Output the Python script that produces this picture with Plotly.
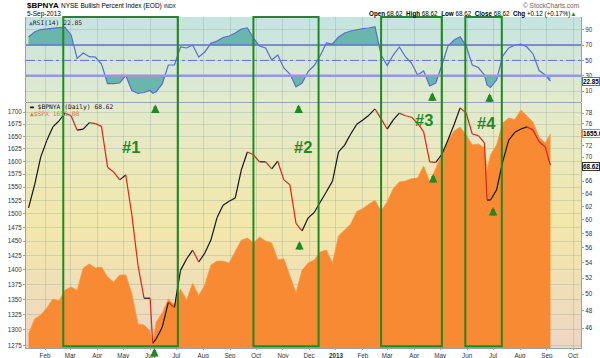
import plotly.graph_objects as go
import pandas as pd

# ---------------- data ----------------
dates = [
    "2012-01-13", "2012-01-20", "2012-01-27", "2012-02-03", "2012-02-10", "2012-02-17", "2012-02-24",
    "2012-03-02", "2012-03-09", "2012-03-16", "2012-03-23", "2012-03-30",
    "2012-04-06", "2012-04-13", "2012-04-20", "2012-04-27",
    "2012-05-04", "2012-05-11", "2012-05-18", "2012-05-25",
    "2012-06-01", "2012-06-04", "2012-06-08", "2012-06-15", "2012-06-22", "2012-06-29",
    "2012-07-06", "2012-07-13", "2012-07-20", "2012-07-27",
    "2012-08-03", "2012-08-10", "2012-08-17", "2012-08-24", "2012-08-31",
    "2012-09-07", "2012-09-14", "2012-09-21", "2012-09-28",
    "2012-10-05", "2012-10-12", "2012-10-19", "2012-10-26",
    "2012-11-02", "2012-11-09", "2012-11-16", "2012-11-23", "2012-11-30",
    "2012-12-07", "2012-12-14", "2012-12-21", "2012-12-28",
    "2013-01-04", "2013-01-11", "2013-01-18", "2013-01-25",
    "2013-02-01", "2013-02-08", "2013-02-15", "2013-02-22",
    "2013-03-01", "2013-03-08", "2013-03-15", "2013-03-22", "2013-03-29",
    "2013-04-05", "2013-04-12", "2013-04-19", "2013-04-26",
    "2013-05-03", "2013-05-10", "2013-05-17", "2013-05-24", "2013-05-31",
    "2013-06-07", "2013-06-14", "2013-06-21", "2013-06-24", "2013-06-28",
    "2013-07-05", "2013-07-12", "2013-07-19", "2013-07-26",
    "2013-08-02", "2013-08-09", "2013-08-16", "2013-08-23", "2013-08-30",
    "2013-09-05",
]

spx_close = [
    1293.5, 1317.6, 1324, 1335.6, 1350.5, 1347, 1365.5,
    1370.6, 1365, 1403, 1410, 1403,
    1404.7, 1387.6, 1379, 1391,
    1391, 1359, 1309.5, 1308,
    1298, 1276, 1312.8, 1327.4, 1350.5, 1340.5,
    1367, 1348.8, 1377, 1356,
    1374, 1408, 1415, 1415, 1411.6,
    1431, 1452, 1455.8, 1447,
    1457.7, 1450.4, 1447, 1417,
    1419, 1389, 1360.5, 1399.6, 1411.6,
    1417, 1431, 1434.5, 1411.6,
    1459.4, 1470, 1481, 1504,
    1509.7, 1518, 1525, 1505,
    1522, 1547, 1560, 1561.7, 1566,
    1567.5, 1590.8, 1560, 1587,
    1612.5, 1640.6, 1661, 1669, 1653,
    1632.6, 1634.6, 1626.6, 1583, 1612.5,
    1632.6, 1677, 1687.6, 1684.6,
    1704.5, 1692, 1679, 1647.6, 1636.6,
    1655.08,
]

bpnya_close = [
    61.8, 65.4, 70.0, 72.9, 75.4, 76.5, 78.0,
    77.5, 74.8, 75.0, 76.2, 76.0,
    75.5, 68.3, 67.5, 66.2,
    67.0, 60.7, 53.7, 49.5,
    49.5, 44.3, 44.8, 46.1, 49.0, 48.4,
    53.0, 54.5, 55.7, 54.1,
    55.3, 57.1, 60.3, 62.2, 62.8,
    63.3, 67.8, 70.9, 70.4,
    69.2, 69.2, 68.0, 69.3,
    66.2, 65.4, 59.5, 58.4, 60.3,
    61.1, 62.7, 64.3, 66.0,
    70.9, 72.1, 74.1, 75.9,
    76.7, 77.6, 78.8, 76.9,
    75.0, 76.7, 78.0, 77.5, 77.2,
    76.1, 74.5, 69.2, 69.1,
    70.5, 73.0, 75.8, 79.0, 78.0,
    74.1, 73.8, 72.5, 63.0, 63.0,
    64.6, 69.2, 73.0, 74.4,
    75.0, 75.4, 74.8, 72.7, 71.8,
    68.62,
]

rsi14 = [
    80.5, 87.1, 90.3, 91.4, 92.0, 92.7, 93.0,
    83.2, 52.7, 59.7, 54.8, 54.4,
    45.3, 19.8, 19.8, 20.5,
    30.3, 10.7, 6.8, 8.1,
    10.7, 7.0, 9.1, 19.2, 44.0, 44.0,
    67.5, 66.2, 70.1, 54.4,
    61.0, 72.3, 75.3, 79.9, 81.9,
    85.8, 91.0, 92.3, 79.2,
    68.8, 66.2, 50.5, 57.0,
    40.1, 32.2, 15.3, 20.5, 35.5,
    43.3, 56.4, 72.7, 71.4,
    80.5, 85.8, 88.4, 90.3,
    91.4, 92.3, 94.0, 57.0,
    43.3, 57.0, 67.5, 54.8, 46.6,
    30.9, 36.2, 16.6, 20.5,
    44.0, 68.8, 76.6, 80.9, 68.8,
    44.0, 40.7, 30.9, 17.9, 14.6,
    24.4, 55.7, 66.2, 70.1,
    71.4, 67.5, 58.4, 36.8, 30.9,
    22.85,
]

month_ticks = ["2012-02-01", "2012-03-01", "2012-04-01", "2012-05-01", "2012-06-01", "2012-07-01",
               "2012-08-01", "2012-09-01", "2012-10-01", "2012-11-01", "2012-12-01", "2013-01-01",
               "2013-02-01", "2013-03-01", "2013-04-01", "2013-05-01", "2013-06-01", "2013-07-01",
               "2013-08-01", "2013-09-01", "2013-10-01"]
month_labels = ["Feb", "Mar", "Apr", "May", "Jun", "Jul", "Aug", "Sep", "Oct", "Nov", "Dec", "<b>2013</b>",
                "Feb", "Mar", "Apr", "May", "Jun", "Jul", "Aug", "Sep", "Oct"]
spx_ticks = [1275, 1300, 1325, 1350, 1375, 1400, 1425, 1450, 1475, 1500, 1525, 1550, 1575, 1600,
             1625, 1650, 1675, 1700]
bpnya_ticks = [46, 48, 50, 52, 54, 56, 58, 60, 62, 64, 66, 68, 70, 72, 74, 76, 78]
rsi_ticks = [10, 30, 50, 70, 90]
rsi_levels = [30, 50, 70]

signal_windows = [("2012-02-22", "2012-07-03"), ("2012-09-28", "2012-12-12"),
                  ("2013-02-22", "2013-05-03"), ("2013-05-30", "2013-07-11")]
signal_names = ["#1", "#2", "#3", "#4"]

# ---------------- helpers ----------------
FONT = "Liberation Sans, Arial, sans-serif"
MONO = "DejaVu Sans Mono, monospace"
GREEN = "#1f8a1f"


def clipped(xs, ys, level, above):
    ts = [pd.Timestamp(x).value for x in xs]
    ox, oy = [], []
    for i in range(len(ys)):
        if i > 0:
            y0, y1 = ys[i - 1], ys[i]
            if (y0 - level) * (y1 - level) < 0:
                f = (level - y0) / (y1 - y0)
                ox.append(pd.Timestamp(int(ts[i - 1] + f * (ts[i] - ts[i - 1]))))
                oy.append(level)
        ox.append(pd.Timestamp(ts[i]))
        oy.append(max(ys[i], level) if above else min(ys[i], level))
    return ox, oy


def lerp(c0, c1, f):
    return tuple(round(a + (b - a) * f) for a, b in zip(c0, c1))


def gradient(p0, p1, stops, n):
    out = []
    for i in range(n):
        f = (i + 0.5) / n
        c = stops[-1][1]
        for j in range(len(stops) - 1):
            if stops[j][0] <= f <= stops[j + 1][0]:
                g = (f - stops[j][0]) / (stops[j + 1][0] - stops[j][0])
                c = lerp(stops[j][1], stops[j + 1][1], g)
                break
        y1 = p1 - (p1 - p0) * i / n
        y0 = p1 - (p1 - p0) * (i + 1) / n
        out.append(dict(type="rect", xref="paper", yref="paper", x0=0, x1=1, y0=y0, y1=min(y1 + 0.002, p1),
                        fillcolor="rgb(%d,%d,%d)" % c, line=dict(width=0), layer="below"))
    return out


# ---------------- figure ----------------
fig = go.Figure()

# RSI panel fills
for level, above in ((70, True), (30, False)):
    cx, cy = clipped(dates, rsi14, level, above)
    fig.add_trace(go.Scatter(x=cx, y=[level] * len(cx), xaxis="x2", yaxis="y", mode="lines",
                             line=dict(width=0), hoverinfo="skip", showlegend=False))
    fig.add_trace(go.Scatter(x=cx, y=cy, xaxis="x2", yaxis="y", mode="lines", fill="tonexty",
                             fillcolor="rgb(104,182,172)", line=dict(width=0), hoverinfo="skip",
                             showlegend=False))
fig.add_trace(go.Scatter(x=dates, y=rsi14, xaxis="x2", yaxis="y", mode="lines",
                         line=dict(color="rgb(92,108,215)", width=1.2), showlegend=False))

# SPX area (left log axis)
fig.add_trace(go.Scatter(x=dates, y=[1000] * len(dates), xaxis="x", yaxis="y2", mode="lines",
                         line=dict(width=0), hoverinfo="skip", showlegend=False))
fig.add_trace(go.Scatter(x=dates, y=spx_close, xaxis="x", yaxis="y2", mode="lines", fill="tonexty",
                         fillcolor="rgb(249,138,52)", line=dict(color="rgb(250,150,70)", width=0.8),
                         showlegend=False))

# BPNYA line coloured by direction (right log axis)
up_x, up_y, dn_x, dn_y = [], [], [], []
for i in range(1, len(bpnya_close)):
    tx, ty = (up_x, up_y) if bpnya_close[i] >= bpnya_close[i - 1] else (dn_x, dn_y)
    tx += [dates[i - 1], dates[i], None]
    ty += [bpnya_close[i - 1], bpnya_close[i], None]
fig.add_trace(go.Scatter(x=up_x, y=up_y, xaxis="x", yaxis="y3", mode="lines",
                         line=dict(color="#151515", width=1.2), showlegend=False))
fig.add_trace(go.Scatter(x=dn_x, y=dn_y, xaxis="x", yaxis="y3", mode="lines",
                         line=dict(color="#e2231a", width=1.2), showlegend=False))

# ---------------- shapes ----------------
RSI_DOM = [0.7432, 1.0]
MAIN_DOM = [0.0, 0.7402]
shapes = []
shapes += gradient(RSI_DOM[0], RSI_DOM[1], [(0, (196, 228, 224)), (1, (226, 235, 206))], 16)
shapes += gradient(MAIN_DOM[0], MAIN_DOM[1],
                   [(0, (226, 234, 204)), (0.5, (243, 232, 170)), (1, (237, 214, 196))], 36)
shapes.append(dict(type="line", xref="paper", yref="paper", x0=0, x1=1, y0=0.7417, y1=0.7417,
                   line=dict(color="rgb(150,165,170)", width=1)))
styles = {70: dict(color="rgb(100,112,215)", width=1.5),
          50: dict(color="rgb(100,112,215)", width=1, dash="dashdot"),
          30: dict(color="rgb(150,152,215)", width=2.5)}
for lv in rsi_levels:
    shapes.append(dict(type="line", xref="paper", yref="y", x0=0, x1=1, y0=lv, y1=lv, line=styles[lv],
                       layer="above"))
for (a, b) in signal_windows:
    shapes.append(dict(type="rect", xref="x", yref="paper", x0=a, x1=b, y0=0.005, y1=1.0,
                       line=dict(color=GREEN, width=2), fillcolor="rgba(0,0,0,0)", layer="above"))

# ---------------- annotations ----------------
ann = []
ann.append(dict(xref="paper", yref="paper", x=-0.002, y=1.034, xanchor="left", yanchor="middle",
                showarrow=False, font=dict(family=FONT, size=8, color="black"),
                text="<b>$BPNYA</b> <span style='font-size:6.5px'>NYSE Bullish Percent Index (EOD)</span> "
                     "<span style='font-size:5px'>INDX</span>"))
ann.append(dict(xref="paper", yref="paper", x=-0.002, y=1.009, xanchor="left", yanchor="middle",
                showarrow=False, font=dict(family=FONT, size=6.5, color="black"), text="5-Sep-2013"))
ann.append(dict(xref="paper", yref="paper", x=1.0, y=1.035, xanchor="right", yanchor="middle",
                showarrow=False, font=dict(family=FONT, size=6.5, color="#666"), text="© StockCharts.com"))
ann.append(dict(xref="paper", yref="paper", x=0.996, y=1.009, xanchor="right", yanchor="middle",
                showarrow=False, font=dict(family=FONT, size=6.3, color="black"),
                text="<b>Open</b> 68.62  <b>High</b> 68.62  <b>Low</b> 68.62  <b>Close</b> 68.62  "
                     "<b>Chg</b> +0.12 (+0.17%)<span style='color:#1f8a1f'>▲</span>"))
# panel legends
ann.append(dict(xref="paper", yref="paper", x=0.002, y=0.984, xanchor="left", yanchor="middle",
                showarrow=False, font=dict(family=MONO, size=6.3, color="#222"),
                text="<span style='color:#5c6cd7'>▲</span>RSI(14) 22.85"))
ann.append(dict(xref="paper", yref="paper", x=0.003, y=0.727, xanchor="left", yanchor="middle",
                showarrow=False, font=dict(family=MONO, size=6.3, color="#111"),
                text="<b>▬</b> $BPNYA (Daily) 68.62"))
ann.append(dict(xref="paper", yref="paper", x=0.003, y=0.708, xanchor="left", yanchor="middle",
                showarrow=False, font=dict(family=MONO, size=6.3, color="rgb(240,120,40)"),
                text="▲$SPX 1655.08"))
# value tags on right axis
for yv, txt, col in ((0.8066, "22.85", "rgb(92,108,215)"), (0.6495, "1655.08", "rgb(240,130,50)"),
                     (0.5498, "68.62", "#333")):
    ann.append(dict(xref="paper", yref="paper", x=1.0, y=yv, xanchor="left", yanchor="middle", xshift=1,
                    showarrow=False, font=dict(family=FONT, size=6.3, color="black"), text="<b>" + txt + "</b>",
                    bgcolor="white", bordercolor=col, borderwidth=1, borderpad=0))
# signal labels
for name, (xd, yp) in zip(signal_names, [("2012-05-10", 0.606), ("2012-11-24", 0.606),
                                          ("2013-04-12", 0.689), ("2013-06-23", 0.681)]):
    ann.append(dict(xref="x", yref="paper", x=xd, y=yp, xanchor="center", yanchor="middle", showarrow=False,
                    font=dict(family=FONT, size=16.5, color=GREEN), text="<b>" + name + "</b>"))
# green up arrows
for xd, yp in [("2012-06-07", 0.736), ("2012-11-19", 0.736), ("2013-04-22", 0.773), ("2013-06-27", 0.770),
               ("2012-06-06", 0.0), ("2012-11-20", 0.323), ("2013-04-23", 0.526), ("2013-07-01", 0.426)]:
    ann.append(dict(xref="x", yref="paper", x=xd, y=yp, ax=0, ay=10, showarrow=True, arrowhead=2,
                    arrowsize=0.5, arrowwidth=3.4, arrowcolor=GREEN, text="", standoff=0))

GRID = "rgba(110,130,130,0.22)"
AXC = "rgb(150,165,170)"
tickfont = dict(family=FONT, size=6.3, color="#333")
xr = ["2012-01-10 02:00", "2013-10-10 05:00"]

fig.update_layout(
    width=600, height=358,
    margin=dict(l=26, r=19, t=17, b=10, pad=0, autoexpand=False),
    paper_bgcolor="white", plot_bgcolor="rgba(0,0,0,0)",
    showlegend=False,
    shapes=shapes, annotations=ann,
    xaxis=dict(domain=[0, 1], anchor="y2", type="date", range=xr, tickvals=month_ticks, ticktext=month_labels,
               showgrid=True, gridcolor=GRID, gridwidth=1, ticks="outside", ticklen=1, tickcolor=AXC,
               tickfont=tickfont, showline=True, linecolor=AXC, linewidth=1, zeroline=False, automargin=False),
    xaxis2=dict(domain=[0, 1], anchor="y", type="date", matches="x", range=xr, tickvals=month_ticks,
                showticklabels=False, showgrid=True, gridcolor=GRID, ticks="", showline=False, zeroline=False),
    yaxis=dict(domain=RSI_DOM, anchor="x2", side="right", range=[-4.31, 106.66], tickvals=rsi_ticks,
               showgrid=True, gridcolor=GRID, ticks="outside", ticklen=2, tickcolor=AXC, tickfont=tickfont,
               showline=True, linecolor=AXC, zeroline=False, mirror=True, automargin=False),
    yaxis2=dict(domain=MAIN_DOM, anchor="x", type="log", range=[3.10428, 3.23533], tickvals=spx_ticks,
                ticktext=[str(t) for t in spx_ticks], side="left", showgrid=True, gridcolor=GRID,
                ticks="outside", ticklen=2, tickcolor=AXC, tickfont=tickfont, showline=True, linecolor=AXC,
                zeroline=False, automargin=False),
    yaxis3=dict(overlaying="y2", anchor="x", side="right", type="log", range=[1.64147, 1.90287],
                tickvals=bpnya_ticks, ticktext=[str(t) for t in bpnya_ticks], showgrid=False,
                ticks="outside", ticklen=2, tickcolor=AXC, tickfont=tickfont, showline=True,
                linecolor=AXC, zeroline=False, automargin=False),
)

fig.write_html("out.html", config={"displayModeBar": False},
               post_script="document.body.style.margin='0';document.body.style.overflow='hidden';")
